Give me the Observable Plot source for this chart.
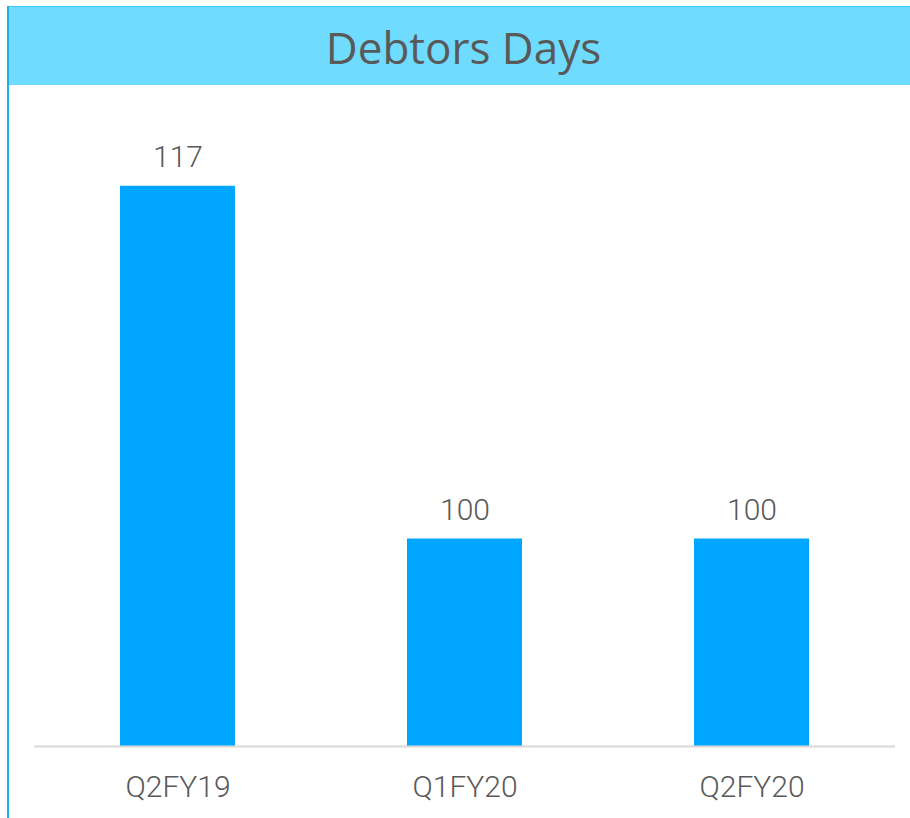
<!DOCTYPE html>
<html>
<head>
<meta charset="utf-8">
<script src="https://cdn.jsdelivr.net/npm/d3@7"></script>
<script src="https://cdn.jsdelivr.net/npm/@observablehq/plot@0.6"></script>
<style>
  html, body { margin: 0; padding: 0; background: #ffffff; }
  #wrap { position: relative; width: 910px; height: 818px; overflow: hidden; background: #fff; }
  #band { position: absolute; left: 9px; top: 6px; width: 901px; height: 79px; background: #6fdbff;
          border-top: 1px solid #3fc4f5; box-sizing: border-box; }
  #title { position: absolute; left: 13px; top: 19px; width: 901px; text-align: center;
           font-family: "Open Sans", sans-serif; font-size: 44px; line-height: 57px; color: #595959; }
  #leftline { position: absolute; left: 7px; top: 6px; width: 2px; height: 812px; background: #1ab0f0; }
  #chart { position: absolute; left: 0; top: 85px; }
</style>
</head>
<body>
<div id="wrap">
  <div id="band"></div>
  <div id="title">Debtors Days</div>
  <div id="leftline"></div>
  <div id="chart"></div>
</div>
<script>
const categories = ["Q2FY19", "Q1FY20", "Q2FY20"];
const values = [117, 100, 100];

const data = categories.map((c, i) => ({quarter: c, days: values[i]}));

const chart = Plot.plot({
  width: 910,
  height: 733,
  marginLeft: 34,
  marginRight: 15,
  marginTop: 38.5,
  marginBottom: 72,
  style: {fontFamily: "Roboto, sans-serif", background: "transparent", color: "#595959"},
  x: {domain: categories, paddingInner: 0.6, paddingOuter: 0.3, label: null},
  y: {domain: [90, 120], axis: null},
  marks: [
    Plot.barY(data, {x: "quarter", y1: 90, y2: "days", fill: "#00a6ff"}),
    Plot.ruleY([90], {stroke: "#d9d9d9", strokeWidth: 2}),
    Plot.text(data, {x: "quarter", y: "days", text: d => String(d.days), lineAnchor: "bottom", dy: -19,
      fontSize: 30, fontWeight: 300, fill: "#595959"}),
    Plot.axisX({tickSize: 0, tickPadding: 29, fontSize: 30, fontWeight: 300, color: "#595959", label: null})
  ]
});
document.getElementById("chart").appendChild(chart);
</script>
</body>
</html>
